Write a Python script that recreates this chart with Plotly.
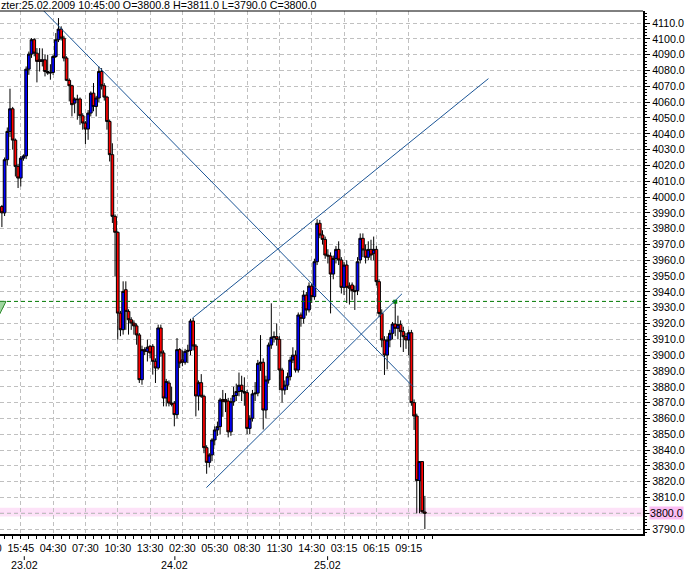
import plotly.graph_objects as go

# ---------------- data ----------------
bar_open = [3994, 3990, 4023.6, 4041.5, 4055.8, 4036, 4019.4, 4012, 4024.6, 4026,
            4080.9, 4090.4, 4099.5, 4091, 4086.8, 4085.8, 4086.8, 4079.4, 4078.4, 4078.8,
            4088.9, 4099.5, 4106.2, 4100.5, 4087.9, 4073.8, 4070.4, 4059.4, 4062, 4062,
            4051.4, 4046.8, 4043, 4053.1, 4065.7, 4057.3, 4062.6, 4079.4, 4070.4, 4063.2,
            4047.8, 4026.8, 3987.8, 3977.7, 3926.6, 3916.1, 3941.4, 3927.7, 3922.4, 3920.3,
            3918.5, 3912.8, 3884.5, 3903.5, 3902.4, 3905.6, 3905.6, 3896.1, 3891.9, 3917.2,
            3901.4, 3872.9, 3882.4, 3869.7, 3869.7, 3862.4, 3903.5, 3897, 3895.5, 3902.4,
            3903, 3921.6, 3905.8, 3874.2, 3882.6, 3874, 3841.5, 3832.2, 3836.9, 3846.4,
            3852.7, 3854.8, 3872, 3872, 3871, 3851.5, 3870.6, 3874.5, 3877, 3881,
            3877, 3876.3, 3853.7, 3860.1, 3875.5, 3876, 3894.8, 3895.5, 3865.3, 3884.3,
            3906.4, 3911.3, 3911.7, 3910, 3890.6, 3878, 3881, 3886.4, 3896.9, 3900,
            3890.6, 3925.4, 3923.3, 3938, 3928.6, 3943.7, 3937, 3959.1, 3983.4, 3976,
            3973.2, 3963.3, 3962.7, 3951.3, 3961.2, 3966.9, 3960.2, 3942.9, 3957, 3943.7,
            3944.4, 3940.8, 3940.8, 3960.2, 3973.9, 3966.5, 3961.9, 3966.9, 3964.4, 3966.9,
            3946.5, 3926.4, 3909.6, 3900.1, 3909.6, 3913.8, 3919.7, 3917, 3919.3, 3914.9,
            3911.7, 3909.6, 3914.2, 3870, 3861.5, 3820.7, 3832.7, 3800.8]
bar_high = [3995, 4025, 4044, 4068.5, 4057, 4037, 4021, 4026, 4027, 4082.6,
            4092, 4100.5, 4100.5, 4094.2, 4094.2, 4094, 4090, 4090, 4084, 4090,
            4103.7, 4113.2, 4108, 4102, 4089, 4075, 4071, 4063, 4064.7, 4063,
            4053, 4048, 4055, 4066.8, 4072.1, 4064, 4082.6, 4081.5, 4072, 4064,
            4049, 4034, 3989, 3978.3, 3928, 3946.7, 3946.7, 3929, 3924, 3922,
            3920, 3914, 3906, 3905, 3909.8, 3906.6, 3907, 3898, 3919.3, 3919.3,
            3903, 3885, 3884, 3880, 3871, 3910.8, 3904.5, 3903, 3904, 3906.6,
            3923, 3923.5, 3907, 3884, 3888, 3875, 3843, 3838, 3847.5, 3855,
            3858, 3873, 3878, 3876, 3873, 3873, 3880, 3882, 3889, 3887,
            3886, 3878, 3862, 3878, 3883, 3897, 3912.7, 3898, 3887, 3908,
            3932.8, 3915, 3920, 3912, 3892, 3884, 3889, 3899, 3905, 3903,
            3927, 3927, 3941, 3940, 3946, 3945, 3961, 3986, 3985.5, 3979,
            3975, 3967, 3965, 3963, 3969, 3972, 3962, 3959, 3960, 3946,
            3946, 3944, 3962, 3977, 3977, 3970, 3972, 3973, 3975, 3969,
            3948, 3929, 3912, 3912, 3916, 3921, 3933.8, 3925, 3922, 3918,
            3914, 3916, 3916, 3872, 3863, 3833, 3833, 3811]
bar_low = [3981, 3988, 4020, 4038, 4030, 4013, 4005.7, 4006.7, 4023, 4024,
           4077.3, 4088, 4089, 4072.5, 4079.4, 4082.6, 4076.3, 4077.3, 4074.2, 4077.3,
           4087.9, 4098, 4099, 4085.8, 4073.3, 4060.5, 4051, 4053, 4048.9, 4045.7,
           4042.6, 4033.5, 4036.2, 4051, 4054.2, 4051, 4060, 4068, 4061, 4042.6,
           4022.5, 3983.6, 3950, 3909.8, 3912, 3913, 3916, 3913, 3916, 3913,
           3906.6, 3882.4, 3881.3, 3900, 3896, 3898, 3887.7, 3882.4, 3890.8, 3899,
           3867.6, 3867.6, 3867.6, 3867.6, 3855, 3860, 3891.9, 3893, 3894, 3895,
           3900, 3903, 3861.3, 3865, 3873, 3838, 3825, 3829, 3833, 3843,
           3849, 3850, 3861, 3864, 3848, 3849, 3868, 3871, 3874, 3871,
           3868, 3850, 3850, 3858, 3871, 3874, 3890, 3853, 3860, 3882,
           3904, 3908, 3906, 3878, 3870, 3875, 3878, 3884, 3895, 3889,
           3889, 3918, 3920, 3925, 3927, 3933, 3935, 3957, 3974, 3970,
           3961, 3958, 3926.4, 3948, 3958, 3957, 3939, 3938, 3933, 3932,
           3935, 3928.6, 3938, 3958, 3962, 3958, 3960, 3960, 3960, 3944,
           3924, 3905, 3887.5, 3891, 3905, 3910, 3912, 3910, 3905, 3902,
           3904, 3900, 3868, 3852.7, 3800, 3800, 3800, 3790]
bar_close = [3990, 4023.6, 4041.5, 4055.8, 4036, 4019.4, 4012, 4024.6, 4026, 4080.9,
             4090.4, 4099.5, 4091, 4085.8, 4085.8, 4086.8, 4079.4, 4078.4, 4078.8, 4088.9,
             4099.5, 4106.2, 4100.5, 4087.9, 4073.8, 4070.4, 4058.4, 4062, 4061.6, 4051.4,
             4046.8, 4043, 4053.1, 4065.7, 4057.3, 4062.6, 4079.4, 4070.4, 4063.2, 4047.8,
             4026.8, 3987.8, 3977.7, 3926.6, 3916.1, 3940.3, 3927.7, 3922.4, 3920.3, 3918.5,
             3912.8, 3884.5, 3903.5, 3902.4, 3905, 3901.4, 3896.1, 3891.9, 3917.2, 3901.4,
             3872.9, 3883.4, 3869.7, 3869, 3862.4, 3903.5, 3895, 3895.5, 3902.4, 3903,
             3921.6, 3905.8, 3874.2, 3882.6, 3874, 3841.5, 3832.2, 3836.9, 3846.4, 3852.7,
             3854.8, 3871.7, 3870.6, 3870.6, 3851.5, 3870.6, 3874.5, 3877, 3881, 3877,
             3876, 3853.7, 3860.1, 3875.5, 3876, 3894.8, 3895.5, 3865.3, 3884.3, 3906.4,
             3911.3, 3911.7, 3910, 3890.6, 3878, 3881, 3886.4, 3896.9, 3900, 3890.6,
             3925.4, 3923.3, 3938, 3928.6, 3943.7, 3937, 3959.1, 3983.4, 3976, 3973.2,
             3963.3, 3962.7, 3951.3, 3961.2, 3966.9, 3960.2, 3942.9, 3957, 3942.9, 3942.3,
             3940.8, 3940.2, 3959.1, 3973.9, 3966.5, 3961.9, 3966.9, 3963.3, 3966.9, 3946.5,
             3926.4, 3909.6, 3900.1, 3909.6, 3913.8, 3919.7, 3917, 3919.3, 3914.9, 3911.7,
             3909.6, 3914.2, 3870, 3861.5, 3820.7, 3832.7, 3801, 3800]
bar_index = list(range(len(bar_open)))

time_tick_bars = [7, 19, 31, 43, 55, 67, 79, 91, 103, 115, 127, 139, 151]
time_tick_labels = ["15:45", "04:30", "07:30", "10:30", "13:30", "02:30", "05:30",
                    "08:30", "11:30", "14:30", "03:15", "06:15", "09:15"]
cut_tick_label = "12:30"
minor_tick_bars = list(range(-2, 161, 3))
date_tick_bars = [8.3, 64.2, 120.9]
date_tick_labels = ["23.02", "24.02", "25.02"]
price_ticks = list(range(3790, 4111, 10))
price_minor = 2

title_text = "zter:25.02.2009 10:45:00 O=3800.8 H=3811.0 L=3790.0 C=3800.0"

# trend lines: (bar, price) -> (bar, price)
trend_lines = [
    ((10, 4127.3), (152.6, 3880.1)),
    ((75.9, 3816.2), (148.5, 3938.8)),
    ((70.7, 3923.4), (180.6, 4074.9)),
]
level_green = 3934.0
level_current = 3800.0
marker_bar, marker_price = 146, 3933.8

# ---------------- figure ----------------
FONT = "Liberation Sans, Arial, sans-serif"
FS = 10.7
X_RANGE = [-0.707, 237.97]
Y_RANGE = [3786.9, 4117.66]
DASH = "4px,3px"

fig = go.Figure()

fig.add_trace(go.Candlestick(
    x=bar_index, open=bar_open, high=bar_high, low=bar_low, close=bar_close,
    increasing=dict(fillcolor="#0000ff", line=dict(color="black", width=1)),
    decreasing=dict(fillcolor="#ff0000", line=dict(color="black", width=1)),
    whiskerwidth=0, showlegend=False, hoverinfo="skip",
))

fig.add_trace(go.Scatter(
    x=[marker_bar], y=[marker_price], mode="markers",
    marker=dict(symbol="square", size=4, color="#008000"),
    showlegend=False, hoverinfo="skip",
))

shapes = []
shapes.append(dict(type="rect", xref="paper", yref="y", x0=0, x1=1,
                   y0=level_current - 2, y1=level_current + 3.5,
                   fillcolor="#fde2f8", line=dict(width=0), layer="below"))
shapes.append(dict(type="line", xref="paper", yref="y", x0=0, x1=1,
                   y0=level_current, y1=level_current,
                   line=dict(color="#cc88c8", width=1, dash=DASH), layer="below"))
shapes.append(dict(type="line", xref="paper", yref="y", x0=0, x1=1,
                   y0=level_green, y1=level_green,
                   line=dict(color="#007800", width=1, dash=DASH)))
shapes.append(dict(type="path", xref="x", yref="y",
                   path=f"M -2.94 {level_green} L 1.53 {level_green} L -2.94 {level_green - 15.2} Z",
                   fillcolor="#9fd69f", line=dict(color="#2e8b2e", width=1)))
for (xa, ya), (xb, yb) in trend_lines:
    shapes.append(dict(type="line", xref="x", yref="y", x0=xa, y0=ya, x1=xb, y1=yb,
                       line=dict(color="#1b5596", width=1)))
shapes.append(dict(type="line", xref="paper", yref="paper", x0=0, x1=1, y0=1, y1=1,
                   line=dict(color="black", width=1)))
for b in date_tick_bars:
    shapes.append(dict(type="line", xref="x", yref="paper", x0=b, x1=b,
                       y0=-0.0425, y1=-0.0497, line=dict(color="black", width=1)))

annotations = []
for b, t in zip(date_tick_bars, date_tick_labels):
    annotations.append(dict(x=b, y=0, xref="x", yref="paper", text=t, showarrow=False,
                            yanchor="middle", xanchor="center", yshift=-31,
                            font=dict(family=FONT, size=FS, color="black")))
# partially visible tick label at the left edge (cut by the page border)
annotations.append(dict(x=0, y=0, xref="paper", yref="paper", text=cut_tick_label,
                        showarrow=False, yanchor="middle", xanchor="center", yshift=-14,
                        xshift=-11.5, font=dict(family=FONT, size=FS, color="black")))
annotations.append(dict(x=0, y=1, xref="paper", yref="paper", text=title_text,
                        showarrow=False, xanchor="left", yanchor="middle", yshift=6, xshift=-1,
                        font=dict(family=FONT, size=FS, color="black")))
annotations.append(dict(x=1, y=level_current, xref="paper", yref="y", text="3800.0",
                        showarrow=False, xanchor="left", yanchor="middle", xshift=6,
                        bgcolor="#fbbdf3", borderpad=0,
                        font=dict(family=FONT, size=FS, color="black")))

fig.update_layout(
    width=686, height=576,
    margin=dict(l=0, r=43, t=11, b=42, pad=0),
    paper_bgcolor="white", plot_bgcolor="white",
    boxgap=0.0, boxgroupgap=0,
    shapes=shapes, annotations=annotations,
    font=dict(family=FONT, size=FS, color="black"),
    showlegend=False,
)

fig.update_xaxes(
    range=X_RANGE, rangeslider=dict(visible=False),
    tickmode="array", tickvals=time_tick_bars, ticktext=time_tick_labels,
    showgrid=True, gridcolor="#c0c0c0", gridwidth=1, griddash=DASH,
    showline=True, linecolor="black", linewidth=2, mirror=False,
    ticks="outside", ticklen=3, tickcolor="black", tickwidth=1,
    minor=dict(tickmode="array", tickvals=minor_tick_bars, ticks="outside",
               ticklen=3, tickcolor="black", tickwidth=1, showgrid=False),
    zeroline=False, tickfont=dict(family=FONT, size=FS, color="black"),
    fixedrange=True,
)

fig.update_yaxes(
    range=Y_RANGE, side="right",
    tickmode="array", tickvals=price_ticks,
    ticktext=["" if v == level_current else f"{v:.1f}" for v in price_ticks],
    showgrid=True, gridcolor="#c0c0c0", gridwidth=1, griddash=DASH,
    showline=True, linecolor="black", linewidth=2, mirror=False,
    ticks="outside", ticklen=5, tickcolor="black", tickwidth=1,
    minor=dict(dtick=price_minor, tick0=3790, ticks="outside", ticklen=2,
               tickcolor="black", tickwidth=1, showgrid=False),
    zeroline=False, tickfont=dict(family=FONT, size=FS, color="black"),
    fixedrange=True,
)

fig.write_html("out.html", config={"displayModeBar": False},
               post_script="document.body.style.margin='0';")
